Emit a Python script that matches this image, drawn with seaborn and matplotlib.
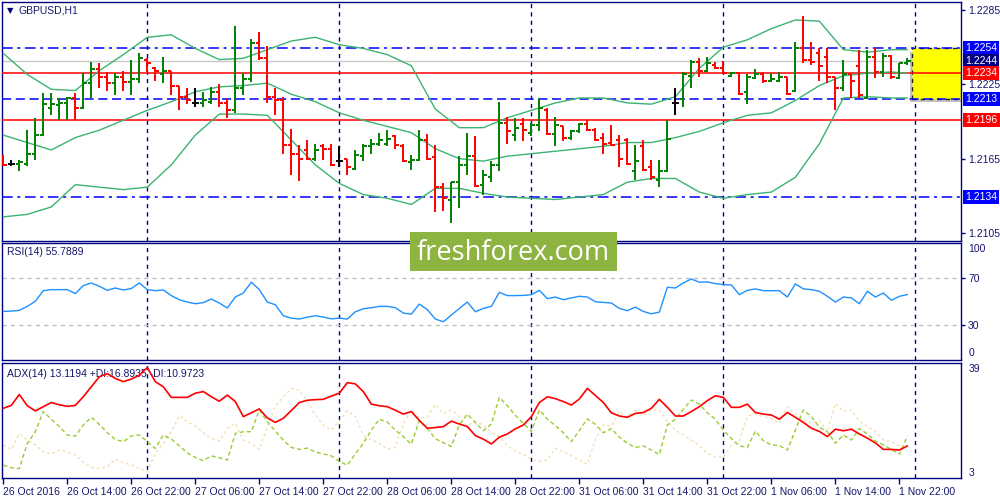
"""GBPUSD H1 - barras OHLC com Bollinger, RSI(14) e ADX(14), no estilo do MT4."""

import matplotlib

matplotlib.use("Agg")
import matplotlib.pyplot as plt
import numpy as np
import seaborn as sns
from matplotlib.patches import Rectangle
from matplotlib.transforms import blended_transform_factory

# ---- dados (barras horarias, 26 Oct 06:00 .. 1 Nov 23:00) ----
bar_open = [
    1.2166, 1.2161, 1.2161, 1.2161, 1.2169, 1.2184, 1.2206, 1.2208, 1.2210, 1.2214,
    1.2206, 1.2226, 1.2237, 1.2231, 1.2226, 1.2231, 1.2227, 1.2229, 1.2245, 1.2238,
    1.2233, 1.2236, 1.2224, 1.2215, 1.2210, 1.2210, 1.2211, 1.2219, 1.2210, 1.2204,
    1.2222, 1.2229, 1.2258, 1.2246, 1.2215, 1.2212, 1.2176, 1.2169, 1.2172, 1.2165,
    1.2175, 1.2173, 1.2163, 1.2165, 1.2157, 1.2167, 1.2175, 1.2177, 1.2177, 1.2183,
    1.2175, 1.2162, 1.2164, 1.2180, 1.2166, 1.2142, 1.2132, 1.2146, 1.2160, 1.2167,
    1.2144, 1.2150, 1.2160, 1.2194, 1.2184, 1.2193, 1.2186, 1.2192, 1.2204, 1.2185,
    1.2191, 1.2182, 1.2187, 1.2193, 1.2188, 1.2182, 1.2178, 1.2180, 1.2180, 1.2155,
    1.2175, 1.2158, 1.2148, 1.2155, 1.2210, 1.2213, 1.2232, 1.2243, 1.2236, 1.2241,
    1.2238, 1.2232, 1.2234, 1.2219, 1.2230, 1.2233, 1.2228, 1.2228, 1.2231, 1.2220,
    1.2254, 1.2245, 1.2250, 1.2247, 1.2231, 1.2222, 1.2233, 1.2240, 1.2214, 1.2247,
    1.2235, 1.2248, 1.2230, 1.2242,
]
bar_high = [
    1.2168, 1.2164, 1.2164, 1.2188, 1.2198, 1.2218, 1.2218, 1.2214, 1.2215, 1.2218,
    1.2234, 1.2243, 1.2242, 1.2235, 1.2234, 1.2236, 1.2245, 1.2250, 1.2246, 1.2239,
    1.2247, 1.2236, 1.2224, 1.2222, 1.2222, 1.2219, 1.2223, 1.2225, 1.2213, 1.2272,
    1.2234, 1.2262, 1.2267, 1.2256, 1.2222, 1.2215, 1.2189, 1.2176, 1.2180, 1.2177,
    1.2177, 1.2177, 1.2175, 1.2165, 1.2172, 1.2177, 1.2181, 1.2186, 1.2188, 1.2184,
    1.2177, 1.2168, 1.2188, 1.2185, 1.2176, 1.2145, 1.2146, 1.2167, 1.2186, 1.2183,
    1.2156, 1.2163, 1.2211, 1.2199, 1.2198, 1.2198, 1.2194, 1.2214, 1.2206, 1.2199,
    1.2191, 1.2188, 1.2194, 1.2196, 1.2190, 1.2186, 1.2192, 1.2184, 1.2182, 1.2176,
    1.2180, 1.2164, 1.2164, 1.2196, 1.2222, 1.2235, 1.2245, 1.2246, 1.2247, 1.2243,
    1.2244, 1.2235, 1.2235, 1.2233, 1.2237, 1.2235, 1.2234, 1.2235, 1.2231, 1.2259,
    1.2280, 1.2259, 1.2254, 1.2254, 1.2231, 1.2245, 1.2233, 1.2253, 1.2253, 1.2254,
    1.2250, 1.2249, 1.2242, 1.2246,
]
bar_low = [
    1.2159, 1.2159, 1.2155, 1.2159, 1.2164, 1.2183, 1.2200, 1.2196, 1.2196, 1.2196,
    1.2205, 1.2214, 1.2222, 1.2220, 1.2216, 1.2220, 1.2216, 1.2226, 1.2235, 1.2228,
    1.2226, 1.2216, 1.2204, 1.2209, 1.2207, 1.2207, 1.2209, 1.2207, 1.2198, 1.2202,
    1.2216, 1.2227, 1.2245, 1.2210, 1.2200, 1.2169, 1.2152, 1.2147, 1.2164, 1.2163,
    1.2164, 1.2159, 1.2158, 1.2152, 1.2156, 1.2163, 1.2169, 1.2175, 1.2175, 1.2173,
    1.2162, 1.2156, 1.2163, 1.2164, 1.2122, 1.2123, 1.2113, 1.2125, 1.2152, 1.2142,
    1.2136, 1.2146, 1.2155, 1.2177, 1.2179, 1.2179, 1.2183, 1.2187, 1.2184, 1.2175,
    1.2179, 1.2180, 1.2186, 1.2187, 1.2179, 1.2169, 1.2175, 1.2158, 1.2160, 1.2148,
    1.2155, 1.2148, 1.2142, 1.2154, 1.2200, 1.2207, 1.2222, 1.2231, 1.2235, 1.2237,
    1.2233, 1.2231, 1.2216, 1.2209, 1.2229, 1.2226, 1.2227, 1.2227, 1.2216, 1.2219,
    1.2242, 1.2241, 1.2228, 1.2226, 1.2204, 1.2220, 1.2214, 1.2214, 1.2213, 1.2230,
    1.2231, 1.2229, 1.2229, 1.2241,
]
bar_close = [
    1.2160, 1.2161, 1.2162, 1.2169, 1.2184, 1.2209, 1.2209, 1.2210, 1.2214, 1.2206,
    1.2226, 1.2237, 1.2231, 1.2226, 1.2231, 1.2227, 1.2229, 1.2246, 1.2242, 1.2236,
    1.2236, 1.2224, 1.2215, 1.2212, 1.2210, 1.2212, 1.2219, 1.2210, 1.2204, 1.2222,
    1.2229, 1.2258, 1.2246, 1.2215, 1.2212, 1.2176, 1.2169, 1.2165, 1.2165, 1.2172,
    1.2173, 1.2160, 1.2163, 1.2158, 1.2168, 1.2175, 1.2177, 1.2180, 1.2181, 1.2176,
    1.2163, 1.2164, 1.2180, 1.2165, 1.2142, 1.2133, 1.2146, 1.2160, 1.2167, 1.2143,
    1.2152, 1.2160, 1.2194, 1.2187, 1.2190, 1.2188, 1.2192, 1.2206, 1.2185, 1.2192,
    1.2182, 1.2187, 1.2193, 1.2188, 1.2180, 1.2177, 1.2176, 1.2165, 1.2161, 1.2163,
    1.2156, 1.2150, 1.2155, 1.2181, 1.2210, 1.2233, 1.2243, 1.2236, 1.2242, 1.2238,
    1.2234, 1.2234, 1.2217, 1.2231, 1.2233, 1.2228, 1.2229, 1.2231, 1.2217, 1.2254,
    1.2245, 1.2243, 1.2240, 1.2231, 1.2222, 1.2233, 1.2228, 1.2216, 1.2247, 1.2235,
    1.2248, 1.2231, 1.2242, 1.2244,
]

# Bollinger (20, 2) lido a cada 3 barras
band_bars = [0, 3, 6, 9, 12, 15, 18, 21, 24, 27, 30, 33, 36, 39, 42, 45, 48, 51, 54, 57,
             60, 63, 66, 69, 72, 75, 78, 81, 84, 87, 90, 93, 96, 99, 102, 105, 108, 111, 113]
band_upper = [
    1.2250, 1.2233, 1.2221, 1.2220, 1.2236, 1.2249, 1.2263, 1.2265, 1.2254, 1.2245,
    1.2246, 1.2253, 1.2260, 1.2263, 1.2257, 1.2254, 1.2249, 1.2240, 1.2205, 1.2190,
    1.2190, 1.2198, 1.2204, 1.2210, 1.2214, 1.2214, 1.2210, 1.2209, 1.2215, 1.2238,
    1.2255, 1.2261, 1.2270, 1.2277, 1.2276, 1.2253, 1.2251, 1.2253, 1.2253,
]
band_middle = [
    1.2184, 1.2178, 1.2172, 1.2182, 1.2188, 1.2196, 1.2204, 1.2211, 1.2219, 1.2223,
    1.2224, 1.2226, 1.2217, 1.2211, 1.2202, 1.2196, 1.2191, 1.2186, 1.2173, 1.2165,
    1.2163, 1.2167, 1.2169, 1.2171, 1.2173, 1.2175, 1.2178, 1.2178, 1.2182, 1.2187,
    1.2194, 1.2200, 1.2202, 1.2212, 1.2224, 1.2232, 1.2234, 1.2235, 1.2234,
]
band_lower = [
    1.2118, 1.2120, 1.2126, 1.2144, 1.2142, 1.2140, 1.2142, 1.2160, 1.2184, 1.2201,
    1.2201, 1.2200, 1.2180, 1.2160, 1.2145, 1.2136, 1.2133, 1.2128, 1.2141, 1.2141,
    1.2137, 1.2134, 1.2133, 1.2132, 1.2134, 1.2136, 1.2146, 1.2149, 1.2149, 1.2138,
    1.2133, 1.2136, 1.2138, 1.2150, 1.2177, 1.2214, 1.2215, 1.2214, 1.2214,
]

rsi_values = [
    41.4, 41.7, 42.3, 45.7, 50.0, 59.1, 60.0, 60.0, 60.0, 56.6,
    63.4, 65.7, 62.9, 59.4, 61.4, 59.7, 60.9, 65.7, 60.0, 59.1,
    59.7, 54.9, 51.4, 49.4, 48.0, 48.9, 52.0, 48.6, 44.3, 53.7,
    57.1, 66.3, 60.0, 49.4, 47.1, 37.7, 35.7, 34.9, 36.6, 37.7,
    36.6, 35.1, 35.7, 34.9, 41.1, 43.7, 44.6, 45.7, 45.7, 44.6,
    40.0, 39.1, 47.7, 42.9, 34.9, 32.6, 38.3, 44.0, 49.4, 41.1,
    44.0, 45.7, 57.7, 54.9, 54.9, 55.1, 55.7, 59.4, 52.3, 53.7,
    51.4, 52.9, 54.3, 53.7, 49.7, 49.1, 48.6, 44.0, 42.0, 45.1,
    41.4, 39.4, 40.9, 62.0, 61.4, 65.7, 69.1, 66.3, 66.6, 65.1,
    64.3, 64.0, 55.7, 59.4, 60.6, 59.1, 59.1, 59.1, 53.7, 64.9,
    60.6, 60.0, 58.6, 54.3, 49.4, 53.7, 52.9, 48.0, 58.6, 53.7,
    57.1, 50.9, 54.3, 55.8,
]

adx_values = [
    24.8, 25.7, 29.1, 25.6, 24.0, 25.3, 26.6, 25.9, 25.4, 25.7,
    28.4, 31.5, 34.6, 35.6, 34.1, 33.1, 33.9, 35.1, 37.5, 33.1,
    31.5, 28.2, 28.2, 28.2, 29.5, 30.0, 28.4, 27.0, 28.9, 26.9,
    22.2, 23.4, 24.6, 21.8, 20.4, 21.7, 24.1, 26.6, 27.3, 27.5,
    27.6, 28.6, 29.5, 32.8, 32.4, 30.0, 26.1, 25.6, 25.3, 24.2,
    23.0, 23.8, 21.0, 18.6, 18.8, 19.1, 20.8, 19.9, 19.1, 16.3,
    15.2, 13.7, 15.8, 16.8, 18.4, 19.6, 22.2, 26.6, 28.4, 27.8,
    26.9, 25.8, 27.7, 31.0, 28.8, 26.6, 23.4, 22.4, 22.0, 23.2,
    23.5, 24.8, 27.6, 25.1, 22.4, 22.4, 23.8, 25.3, 27.2, 28.7,
    28.2, 25.1, 25.1, 26.1, 23.5, 23.0, 22.7, 21.4, 23.5, 22.0,
    20.4, 18.6, 17.6, 16.0, 18.3, 17.8, 18.3, 16.8, 15.5, 14.0,
    12.0, 12.0, 11.8, 13.1,
]
plus_di = [
    7.1, 6.3, 6.0, 13.9, 17.5, 23.8, 21.4, 19.1, 16.5, 16.1,
    19.6, 22.0, 19.8, 17.2, 15.1, 14.4, 16.2, 16.5, 14.4, 12.3,
    16.5, 15.2, 13.1, 10.9, 9.5, 8.5, 10.0, 9.4, 8.7, 17.0,
    17.5, 17.5, 24.3, 20.6, 17.7, 14.9, 12.6, 12.0, 12.4, 11.2,
    10.6, 10.0, 8.2, 7.1, 10.6, 13.9, 18.0, 21.4, 20.5, 18.0,
    16.0, 13.6, 21.0, 18.5, 15.3, 14.1, 12.9, 19.6, 23.0, 20.3,
    17.8, 19.9, 28.2, 25.6, 22.6, 20.1, 17.6, 24.3, 21.4, 19.4,
    17.2, 14.4, 17.9, 21.5, 19.8, 17.2, 18.5, 15.8, 13.9, 12.6,
    13.1, 11.8, 10.4, 19.6, 21.4, 24.5, 27.4, 26.1, 23.4, 21.4,
    18.0, 15.4, 13.1, 12.6, 17.7, 14.7, 13.4, 13.2, 11.8, 18.0,
    24.3, 22.2, 18.9, 17.5, 13.9, 16.5, 14.9, 18.5, 16.8, 14.6,
    13.4, 12.0, 10.5, 16.2,
]
minus_di = [
    13.4, 12.0, 16.9, 14.9, 13.4, 11.3, 10.5, 11.8, 11.1, 10.3,
    8.0, 6.4, 6.1, 6.6, 8.9, 7.9, 7.1, 6.1, 5.1, 10.8,
    13.9, 17.5, 22.5, 20.6, 19.3, 17.2, 15.4, 14.6, 18.6, 20.1,
    14.9, 13.9, 12.0, 19.1, 25.3, 28.4, 31.0, 30.5, 26.9, 22.7,
    19.6, 18.0, 20.8, 24.1, 22.2, 16.5, 14.9, 13.9, 12.1, 12.6,
    20.1, 24.1, 21.7, 22.2, 26.0, 23.2, 24.3, 22.2, 19.3, 20.8,
    19.6, 17.2, 16.0, 13.1, 11.5, 10.3, 9.0, 8.2, 8.7, 12.3,
    11.2, 10.0, 8.7, 7.3, 15.1, 19.6, 19.3, 23.8, 22.2, 24.1,
    22.7, 24.3, 24.3, 20.6, 18.0, 16.5, 14.9, 13.1, 10.8, 9.7,
    9.5, 13.3, 14.9, 22.4, 23.0, 22.2, 21.6, 20.1, 25.3, 23.0,
    21.2, 20.1, 21.0, 17.5, 26.3, 23.8, 24.3, 20.8, 19.1, 17.7,
    14.9, 14.4, 13.1, 11.5,
]

time_labels = ["26 Oct 2016", "26 Oct 14:00", "26 Oct 22:00", "27 Oct 06:00",
               "27 Oct 14:00", "27 Oct 22:00", "28 Oct 06:00", "28 Oct 14:00",
               "28 Oct 22:00", "31 Oct 06:00", "31 Oct 14:00", "31 Oct 22:00",
               "1 Nov 06:00", "1 Nov 14:00", "1 Nov 22:00"]
time_label_bars = [0, 8, 16, 24, 32, 40, 48, 56, 64, 72, 80, 88, 96, 104, 112]
day_break_bars = [18, 42, 66, 90, 114]

price_axis_ticks = [1.2285, 1.2225, 1.2165, 1.2105]
support_resistance = [1.2254, 1.2213, 1.2134]
red_levels = [1.2234, 1.2196]
bid_price = 1.2244

NAVY = "#000080"
TEXT = "#15156e"
GREEN = "#008000"
RED = "#FF0000"
XLIM = (-0.16, 119.7)


def boxed_label(ax, y, text, color):
    trans = blended_transform_factory(ax.transAxes, ax.transData)
    ax.text(1.0045, y, text, transform=trans, ha="left", va="center", color="white",
            fontsize=7.5, clip_on=False,
            bbox=dict(boxstyle="square,pad=0.2", fc=color, ec="none"))


def style_panel(ax):
    ax.set_facecolor("white")
    for spine in ax.spines.values():
        spine.set_color(NAVY)
        spine.set_linewidth(1)
    ax.set_xlim(*XLIM)
    for b in day_break_bars:
        ax.axvline(b, color=NAVY, lw=1, ls=(0, (3, 3)), zorder=1)


def main() -> None:
    sns.set_theme(style="white")
    plt.rcParams["font.family"] = ["Liberation Sans", "DejaVu Sans"]
    plt.rcParams["font.size"] = 7.5

    fig = plt.figure(figsize=(10, 5), dpi=100)
    ax_main = fig.add_axes([0.002, 0.518, 0.959, 0.478])
    ax_rsi = fig.add_axes([0.002, 0.28, 0.959, 0.2346])
    ax_adx = fig.add_axes([0.002, 0.0434, 0.959, 0.2312])

    bars = np.arange(len(bar_close))
    opens = np.array(bar_open)
    closes = np.array(bar_close)
    colors = [GREEN if c > o else RED if c < o else "black" for o, c in zip(opens, closes)]

    # ---- painel principal ----
    style_panel(ax_main)
    ax_main.set_ylim(1.20985, 1.22915)
    for lvl in support_resistance:
        ls = (0, (6, 3)) if lvl == 1.2213 else (0, (7, 3, 2, 3))
        ax_main.axhline(lvl, color="#0000FF", lw=1.1, ls=ls, zorder=3)
    for lvl in red_levels:
        ax_main.axhline(lvl, color=RED, lw=1.1, zorder=3)
    ax_main.axhline(bid_price, color="#C8C8C8", lw=1, zorder=2)

    ax_main.add_patch(Rectangle((113.3, 1.22105), 6.6, 0.0041, fc="#9a9a9a", ec="none",
                                alpha=0.6, zorder=2))
    ax_main.add_patch(Rectangle((113.6, 1.2213), 6.3, 0.0041, fc="#FFFF00", ec="#202020",
                                lw=1, ls=(0, (3, 3)), zorder=2.5))

    sns.lineplot(x=band_bars, y=band_upper, ax=ax_main, color="#3CB371", lw=1, zorder=4)
    sns.lineplot(x=band_bars, y=band_middle, ax=ax_main, color="#3CB371", lw=1, zorder=4)
    sns.lineplot(x=band_bars, y=band_lower, ax=ax_main, color="#3CB371", lw=1, zorder=4)

    ax_main.vlines(bars, bar_low, bar_high, colors=colors, lw=1.4, zorder=5)
    ax_main.hlines(opens, bars - 0.45, bars, colors=colors, lw=1.4, zorder=5)
    ax_main.hlines(closes, bars, bars + 0.45, colors=colors, lw=1.4, zorder=5)

    ax_main.set_xticks([])
    ax_main.yaxis.tick_right()
    ax_main.set_yticks(price_axis_ticks)
    ax_main.set_yticklabels([f"{p:.4f}" for p in price_axis_ticks])
    ax_main.tick_params(axis="y", length=3, width=1, color=NAVY, labelcolor=TEXT,
                        labelsize=7.5, pad=2)
    boxed_label(ax_main, 1.2254, "1.2254", "#0000FF")
    boxed_label(ax_main, 1.2244, "1.2244", NAVY)
    boxed_label(ax_main, 1.2234, "1.2234", RED)
    boxed_label(ax_main, 1.2213, "1.2213", "#0000FF")
    boxed_label(ax_main, 1.2196, "1.2196", RED)
    boxed_label(ax_main, 1.2134, "1.2134", "#0000FF")
    ax_main.text(0.005, 0.965, "\u25bc", transform=ax_main.transAxes, fontsize=6,
                 color=NAVY, va="center", family="DejaVu Sans")
    ax_main.text(0.017, 0.965, "GBPUSD,H1", transform=ax_main.transAxes, fontsize=7.5,
                 color=TEXT, va="center")
    ax_main.set_ylabel("")

    # ---- RSI ----
    style_panel(ax_rsi)
    ax_rsi.set_ylim(0, 100)
    for lvl in (70, 30):
        ax_rsi.axhline(lvl, color="#C0C0C0", lw=1, ls=(0, (3, 3)), zorder=1)
    sns.lineplot(x=bars, y=rsi_values, ax=ax_rsi, color="#1E90FF", lw=1, zorder=3)
    ax_rsi.set_xticks([])
    ax_rsi.yaxis.tick_right()
    ax_rsi.set_yticks([70, 30])
    ax_rsi.set_yticklabels(["70", "30"])
    ax_rsi.tick_params(axis="y", length=3, width=1, color=NAVY, labelcolor=TEXT,
                       labelsize=7.5, pad=2)
    trans = blended_transform_factory(ax_rsi.transAxes, ax_rsi.transData)
    ax_rsi.text(1.0075, 94.5, "100", transform=trans, color=TEXT, fontsize=7.5, va="center")
    ax_rsi.text(1.0075, 6, "0", transform=trans, color=TEXT, fontsize=7.5, va="center")
    ax_rsi.text(0.005, 0.92, "RSI(14) 55.7889", transform=ax_rsi.transAxes, fontsize=7.5,
                color=TEXT, va="center")
    ax_rsi.set_ylabel("")

    # ---- ADX ----
    style_panel(ax_adx)
    ax_adx.set_ylim(3, 39)
    sns.lineplot(x=bars, y=minus_di, ax=ax_adx, color="#F5DEB3", lw=1,
                 linestyle=(0, (2, 2)), zorder=2)
    sns.lineplot(x=bars, y=plus_di, ax=ax_adx, color="#9ACD32", lw=1,
                 linestyle=(0, (3, 2)), zorder=3)
    sns.lineplot(x=bars, y=adx_values, ax=ax_adx, color=RED, lw=1.2, zorder=4)
    ax_adx.yaxis.tick_right()
    ax_adx.set_yticks([])
    trans = blended_transform_factory(ax_adx.transAxes, ax_adx.transData)
    ax_adx.text(1.0075, 37.0, "39", transform=trans, color=TEXT, fontsize=7.5, va="center")
    ax_adx.text(1.0075, 4.7, "3", transform=trans, color=TEXT, fontsize=7.5, va="center")
    ax_adx.text(0.005, 0.9, "ADX(14) 13.1194 +DI:16.8935 -DI:10.9723",
                transform=ax_adx.transAxes, fontsize=7.5, color=TEXT, va="center")
    ax_adx.set_xticks(time_label_bars)
    ax_adx.set_xticklabels(time_labels, ha="left")
    ax_adx.tick_params(axis="x", length=4, width=1, color=NAVY, labelcolor=TEXT,
                       labelsize=7.5, pad=2, bottom=True)
    ax_adx.set_ylabel("")

    # ---- marca d'agua ----
    fig.add_artist(Rectangle((0.41, 0.459), 0.207, 0.077, transform=fig.transFigure,
                             fc="#8DB440", ec="none", zorder=10))
    fig.text(0.5135, 0.494, "freshforex.com", ha="center", va="center", color="white",
             fontsize=19.5, family="Open Sans", zorder=11)

    fig.savefig("out.png", dpi=100, facecolor="white")


if __name__ == "__main__":
    main()
